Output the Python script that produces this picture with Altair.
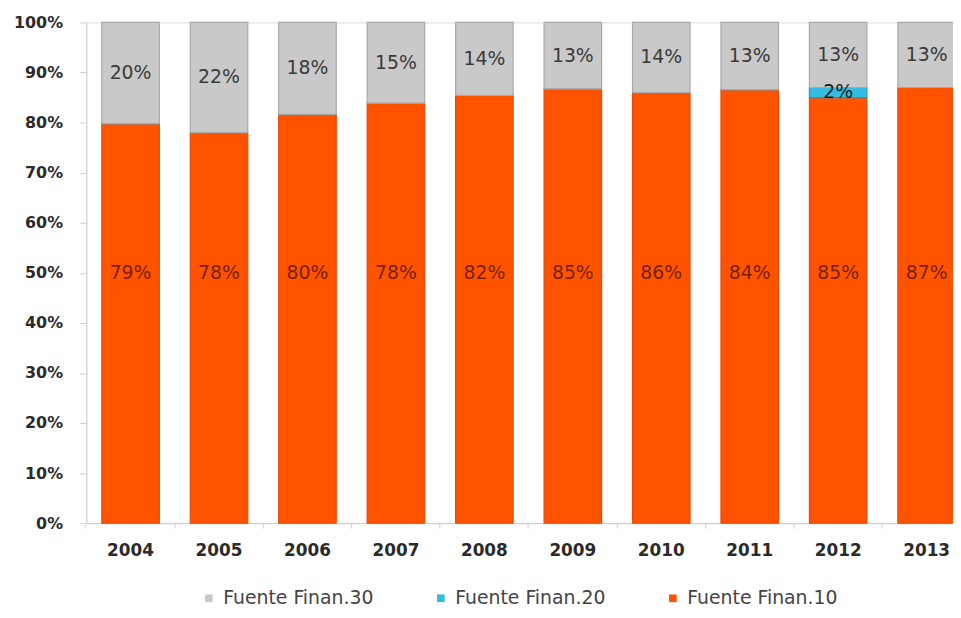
import altair as alt
import pandas as pd

years = ["2004", "2005", "2006", "2007", "2008", "2009", "2010", "2011", "2012", "2013"]
finan10 = [79, 78, 80, 78, 82, 85, 86, 84, 85, 87]
finan20 = [0, 0, 0, 0, 0, 0, 0, 0, 2, 0]
finan30 = [20, 22, 18, 15, 14, 13, 14, 13, 13, 13]
series = ["Fuente Finan.30", "Fuente Finan.20", "Fuente Finan.10"]
colors = ["#C9C9C9", "#33BDE0", "#FF5300"]

rows = []
for i, yr in enumerate(years):
    for s, vals, k in [(series[2], finan10, 1), (series[1], finan20, 2), (series[0], finan30, 3)]:
        rows.append({"year": yr, "serie": s, "value": vals[i], "orden": k})
df = pd.DataFrame(rows)

xenc = alt.X(
    "year:N",
    title=None,
    scale=alt.Scale(range=[0, 892], paddingInner=0.35, paddingOuter=0.175),
    axis=alt.Axis(
        labelAngle=0, labelFont="DejaVu Sans", labelFontWeight="bold", labelFontSize=17,
        labelColor="#2a2a2a", labelPadding=15, domainColor="#cfcfcf", tickColor="#cfcfcf",
        tickSize=5, bandPosition=-0.27,
    ),
)

bars = alt.Chart(df).mark_bar(strokeWidth=1.2).encode(
    x=xenc,
    y=alt.Y(
        "value:Q", stack="normalize", title=None,
        scale=alt.Scale(domain=[0, 1]),
        axis=alt.Axis(
            format="%", values=[0, 0.1, 0.2, 0.3, 0.4, 0.5, 0.6, 0.7, 0.8, 0.9, 1.0],
            labelFont="DejaVu Sans", labelFontWeight="bold", labelFontSize=16,
            labelColor="#2a2a2a", labelPadding=17, domainColor="#d5d5d5",
            tickColor="#cfcfcf", tickSize=7, grid=False,
        ),
    ),
    color=alt.Color(
        "serie:N",
        scale=alt.Scale(domain=series, range=colors),
        legend=alt.Legend(
            title=None, orient="none", direction="horizontal", legendX=114, legendY=571,
            symbolType="square", symbolSize=60, symbolStrokeWidth=0,
            labelFont="DejaVu Sans", labelFontSize=19, labelColor="#444444",
            labelOffset=5, columnPadding=58, labelLimit=300,
        ),
    ),
    stroke=alt.Stroke(
        "serie:N",
        scale=alt.Scale(domain=series, range=["#A8A8A8", "#1E9CC0", "#E84A00"]),
        legend=None,
    ),
    order=alt.Order("orden:Q"),
)

labels = alt.Chart(df).transform_stack(
    stack="value", groupby=["year"], as_=["y0", "y1"], offset="normalize",
    sort=[alt.SortField("orden", order="ascending")],
).transform_joinaggregate(
    top="max(y1)", bottom="min(y0)", groupby=["year"]
).transform_filter(
    alt.datum.value > 0
).transform_calculate(
    mid="datum.orden == 1 ? (datum.bottom + datum.top) / 2 : (datum.y0 + datum.y1) / 2",
    lbl="datum.value + '%'",
).mark_text(font="DejaVu Sans", fontSize=19, baseline="middle").encode(
    x=xenc,
    y=alt.Y("mid:Q", scale=alt.Scale(domain=[0, 1])),
    text="lbl:N",
    color=alt.Color(
        "serie:N",
        scale=alt.Scale(domain=series, range=["#3a3a3a", "#1a1a1a", "#7a2200"]),
        legend=None,
    ),
)

chart = alt.layer(bars, labels).resolve_scale(color="independent").properties(
    width=874, height=505,
    autosize=alt.AutoSizeParams(type="none"),
    padding={"left": 79, "top": 12, "right": 0, "bottom": 85},
).configure_view(stroke=None).configure(background="white")

chart.save("out.html", embed_options={"renderer": "svg", "actions": False})
